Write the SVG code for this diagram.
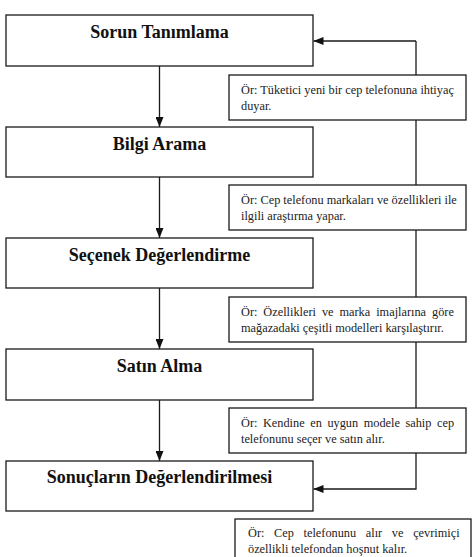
<svg xmlns="http://www.w3.org/2000/svg" width="472" height="557" viewBox="0 0 472 557">
<style>
.box{fill:#fff;stroke:#1a1a1a;stroke-width:1.3}
.note{fill:#fff;stroke:#1a1a1a;stroke-width:1.3}
.title{font-family:'Liberation Serif',serif;font-weight:bold;font-size:18px;fill:#111;text-anchor:middle}
.nt{font-family:'Liberation Serif',serif;font-size:12.3px;fill:#222}
.conn{fill:none;stroke:#1a1a1a;stroke-width:1.3}
</style>
<defs>
<marker id="arr" markerUnits="userSpaceOnUse" markerWidth="10" markerHeight="8" refX="10" refY="4" orient="auto">
<path d="M0,0 L10,4 L0,8 z" fill="#111"/>
</marker>
</defs>
<rect width="472" height="557" fill="#fff"/>
<g id="connectors">
<path class="conn" d="M159.5,66 V127" marker-end="url(#arr)"/>
<path class="conn" d="M159.5,177 V238" marker-end="url(#arr)"/>
<path class="conn" d="M159.5,288 V349" marker-end="url(#arr)"/>
<path class="conn" d="M159.5,400 V461" marker-end="url(#arr)"/>
<path class="conn" d="M416,41 H313.5" marker-end="url(#arr)"/>
<path class="conn" d="M416,41 V489 H313.5" marker-end="url(#arr)"/>
</g>
<g id="sorun-tanimlama">
<rect class="box" x="6" y="15" width="307" height="51"/>
<text class="title" x="159.5" y="38">Sorun Tanımlama</text>
</g>
<g id="bilgi-arama">
<rect class="box" x="6" y="127" width="307" height="50"/>
<text class="title" x="159.5" y="150">Bilgi Arama</text>
</g>
<g id="secenek-degerlendirme">
<rect class="box" x="6" y="238" width="307" height="50"/>
<text class="title" x="159.5" y="261">Seçenek Değerlendirme</text>
</g>
<g id="satin-alma">
<rect class="box" x="6" y="349" width="307" height="51"/>
<text class="title" x="159.5" y="372">Satın Alma</text>
</g>
<g id="sonuclarin-degerlendirilmesi">
<rect class="box" x="6" y="461" width="307" height="50"/>
<text class="title" x="159.5" y="483">Sonuçların Değerlendirilmesi</text>
</g>
<g id="note-1">
<rect class="note" x="229" y="75" width="237" height="45"/>
<text class="nt" x="241" y="94">Ör: Tüketici yeni bir cep telefonuna ihtiyaç</text>
<text class="nt" x="241" y="110">duyar.</text>
</g>
<g id="note-2">
<rect class="note" x="229" y="185" width="237" height="45"/>
<text class="nt" x="241" y="204">Ör: Cep telefonu markaları ve özellikleri ile</text>
<text class="nt" x="241" y="220">ilgili araştırma yapar.</text>
</g>
<g id="note-3">
<rect class="note" x="229" y="297" width="237" height="45"/>
<text class="nt" x="241" y="316" word-spacing="2.9">Ör: Özellikleri ve marka imajlarına göre</text>
<text class="nt" x="241" y="332">mağazadaki çeşitli modelleri karşılaştırır.</text>
</g>
<g id="note-4">
<rect class="note" x="229" y="408" width="237" height="45"/>
<text class="nt" x="241" y="427" word-spacing="2.5">Ör: Kendine en uygun modele sahip cep</text>
<text class="nt" x="241" y="443">telefonunu seçer ve satın alır.</text>
</g>
<g id="note-5">
<rect class="note" x="235" y="519" width="236" height="50"/>
<text class="nt" x="248" y="537" word-spacing="6.6">Ör: Cep telefonunu alır ve çevrimiçi</text>
<text class="nt" x="248" y="553">özellikli telefondan hoşnut kalır.</text>
</g>
</svg>
